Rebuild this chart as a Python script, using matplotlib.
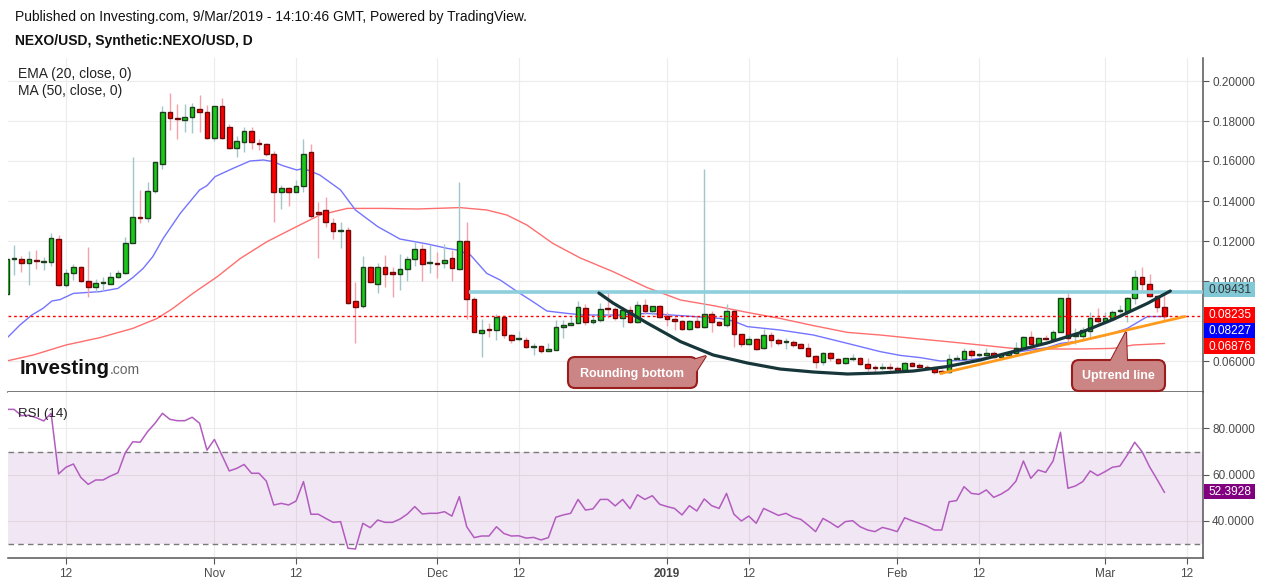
import numpy as np
import pandas as pd
import matplotlib
matplotlib.use("Agg")
import matplotlib.pyplot as plt
import matplotlib.dates as mdates
from matplotlib.patches import FancyBboxPatch, Polygon, Rectangle
from matplotlib.transforms import Affine2D

W, H = 1261, 582
plt.rcParams['font.family'] = ['Liberation Sans', 'DejaVu Sans']

# daily candles, 4 Oct 2018 .. 9 Mar 2019
dates = pd.date_range('2018-10-04', periods=157, freq='D')

opens = [
    0.0935, 0.1110, 0.1110, 0.1090, 0.1105, 0.1095, 0.1095, 0.1210, 0.0980, 0.1042,
    0.1070, 0.1000, 0.0970, 0.0990, 0.0985, 0.1020, 0.1042, 0.1190, 0.1320, 0.1313,
    0.1450, 0.1583, 0.1847, 0.1813, 0.1805, 0.1822, 0.1860, 0.1847, 0.1713, 0.1877,
    0.1772, 0.1663, 0.1697, 0.1750, 0.1692, 0.1685, 0.1633, 0.1447, 0.1467, 0.1447,
    0.1475, 0.1647, 0.1343, 0.1355, 0.1290, 0.1250, 0.1255, 0.0900, 0.0875, 0.1068,
    0.0985, 0.1068, 0.1047, 0.1035, 0.1060, 0.1110, 0.1160, 0.1088, 0.1090, 0.1092,
    0.1113, 0.1060, 0.1200, 0.0910, 0.0742, 0.0758, 0.0753, 0.0822, 0.0730, 0.0708,
    0.0705, 0.0668, 0.0675, 0.0650, 0.0655, 0.0768, 0.0780, 0.0788, 0.0863, 0.0797,
    0.0803, 0.0862, 0.0860, 0.0813, 0.0855, 0.0793, 0.0880, 0.0850, 0.0875, 0.0827,
    0.0810, 0.0800, 0.0760, 0.0800, 0.0768, 0.0837, 0.0793, 0.0780, 0.0850, 0.0733,
    0.0683, 0.0710, 0.0663, 0.0730, 0.0705, 0.0697, 0.0697, 0.0683, 0.0667, 0.0627,
    0.0593, 0.0638, 0.0610, 0.0588, 0.0612, 0.0613, 0.0585, 0.0565, 0.0563, 0.0567,
    0.0565, 0.0555, 0.0588, 0.0580, 0.0570, 0.0567, 0.0548, 0.0547, 0.0609, 0.0610,
    0.0650, 0.0630, 0.0630, 0.0638, 0.0620, 0.0630, 0.0638, 0.0663, 0.0720, 0.0685,
    0.0712, 0.0710, 0.0747, 0.0913, 0.0726, 0.0727, 0.0750, 0.0813, 0.0800, 0.0813,
    0.0849, 0.0850, 0.0913, 0.1020, 0.0983, 0.0925, 0.0868]
highs = [
    0.1120, 0.1180, 0.1127, 0.1152, 0.1155, 0.1120, 0.1238, 0.1230, 0.1060, 0.1083,
    0.1073, 0.1170, 0.1010, 0.1020, 0.1047, 0.1055, 0.1222, 0.1622, 0.1453, 0.1493,
    0.1597, 0.1877, 0.1942, 0.1885, 0.1885, 0.1888, 0.1930, 0.1880, 0.1877, 0.1915,
    0.1783, 0.1727, 0.1772, 0.1772, 0.1710, 0.1690, 0.1650, 0.1480, 0.1470, 0.1505,
    0.1708, 0.1683, 0.1397, 0.1422, 0.1313, 0.1297, 0.1272, 0.0997, 0.1127, 0.1077,
    0.1088, 0.1130, 0.1072, 0.1135, 0.1127, 0.1197, 0.1183, 0.1180, 0.1147, 0.1183,
    0.1155, 0.1497, 0.1297, 0.0922, 0.0808, 0.0788, 0.0833, 0.0832, 0.0735, 0.0750,
    0.0722, 0.0690, 0.0677, 0.0690, 0.0805, 0.0805, 0.0822, 0.0900, 0.0885, 0.0822,
    0.0888, 0.0947, 0.0870, 0.0872, 0.0877, 0.0900, 0.0910, 0.0877, 0.0880, 0.0847,
    0.0822, 0.0803, 0.0805, 0.0827, 0.1560, 0.0852, 0.0800, 0.0887, 0.0860, 0.0735,
    0.0727, 0.0715, 0.0760, 0.0747, 0.0713, 0.0713, 0.0705, 0.0690, 0.0688, 0.0630,
    0.0643, 0.0647, 0.0615, 0.0617, 0.0635, 0.0622, 0.0613, 0.0580, 0.0588, 0.0590,
    0.0575, 0.0597, 0.0597, 0.0590, 0.0580, 0.0577, 0.0560, 0.0633, 0.0630, 0.0663,
    0.0660, 0.0638, 0.0663, 0.0650, 0.0637, 0.0650, 0.0693, 0.0727, 0.0750, 0.0720,
    0.0730, 0.0755, 0.0917, 0.0938, 0.0763, 0.0772, 0.0843, 0.0863, 0.0843, 0.0855,
    0.0880, 0.0922, 0.1055, 0.1072, 0.1037, 0.0930, 0.0938]
lows = [
    0.0930, 0.1030, 0.1047, 0.0980, 0.1060, 0.1055, 0.1077, 0.0975, 0.0972, 0.1005,
    0.0993, 0.0922, 0.0947, 0.0950, 0.0983, 0.1013, 0.1035, 0.1188, 0.1290, 0.1297,
    0.1440, 0.1560, 0.1757, 0.1708, 0.1747, 0.1738, 0.1747, 0.1710, 0.1700, 0.1710,
    0.1660, 0.1622, 0.1643, 0.1660, 0.1655, 0.1627, 0.1293, 0.1358, 0.1375, 0.1445,
    0.1445, 0.1310, 0.1117, 0.1270, 0.1210, 0.1167, 0.0885, 0.0688, 0.0863, 0.0990,
    0.0938, 0.0972, 0.0922, 0.0955, 0.1000, 0.1077, 0.1000, 0.1038, 0.1013, 0.1067,
    0.1000, 0.1055, 0.0810, 0.0745, 0.0622, 0.0718, 0.0705, 0.0717, 0.0688, 0.0700,
    0.0665, 0.0630, 0.0638, 0.0650, 0.0655, 0.0713, 0.0780, 0.0788, 0.0780, 0.0785,
    0.0797, 0.0813, 0.0805, 0.0768, 0.0788, 0.0788, 0.0833, 0.0830, 0.0813, 0.0777,
    0.0755, 0.0755, 0.0755, 0.0763, 0.0763, 0.0747, 0.0777, 0.0772, 0.0672, 0.0672,
    0.0680, 0.0655, 0.0660, 0.0672, 0.0680, 0.0660, 0.0672, 0.0665, 0.0622, 0.0567,
    0.0580, 0.0600, 0.0585, 0.0585, 0.0600, 0.0580, 0.0550, 0.0547, 0.0555, 0.0555,
    0.0550, 0.0547, 0.0573, 0.0565, 0.0558, 0.0533, 0.0535, 0.0538, 0.0600, 0.0605,
    0.0617, 0.0620, 0.0625, 0.0613, 0.0615, 0.0625, 0.0630, 0.0657, 0.0680, 0.0683,
    0.0705, 0.0705, 0.0743, 0.0680, 0.0683, 0.0700, 0.0713, 0.0788, 0.0797, 0.0810,
    0.0838, 0.0797, 0.0883, 0.0950, 0.0922, 0.0843, 0.0800]
closes = [
    0.1110, 0.1112, 0.1090, 0.1110, 0.1101, 0.1097, 0.1213, 0.0980, 0.1042, 0.1070,
    0.1000, 0.0970, 0.0990, 0.0993, 0.1020, 0.1042, 0.1190, 0.1320, 0.1313, 0.1450,
    0.1597, 0.1847, 0.1813, 0.1808, 0.1822, 0.1870, 0.1843, 0.1713, 0.1877, 0.1713,
    0.1663, 0.1700, 0.1750, 0.1697, 0.1685, 0.1633, 0.1447, 0.1467, 0.1447, 0.1475,
    0.1637, 0.1327, 0.1335, 0.1293, 0.1250, 0.1255, 0.0888, 0.0868, 0.1068, 0.0997,
    0.1068, 0.1035, 0.1035, 0.1060, 0.1110, 0.1160, 0.1085, 0.1090, 0.1087, 0.1105,
    0.1063, 0.1200, 0.0910, 0.0747, 0.0755, 0.0753, 0.0822, 0.0730, 0.0705, 0.0710,
    0.0668, 0.0670, 0.0650, 0.0660, 0.0768, 0.0780, 0.0792, 0.0868, 0.0793, 0.0803,
    0.0860, 0.0860, 0.0815, 0.0855, 0.0793, 0.0880, 0.0850, 0.0875, 0.0820, 0.0810,
    0.0800, 0.0760, 0.0800, 0.0768, 0.0837, 0.0793, 0.0780, 0.0850, 0.0733, 0.0683,
    0.0710, 0.0658, 0.0730, 0.0705, 0.0688, 0.0698, 0.0680, 0.0667, 0.0627, 0.0593,
    0.0638, 0.0613, 0.0588, 0.0613, 0.0614, 0.0585, 0.0567, 0.0563, 0.0567, 0.0565,
    0.0557, 0.0588, 0.0577, 0.0570, 0.0563, 0.0547, 0.0545, 0.0610, 0.0611, 0.0650,
    0.0630, 0.0631, 0.0638, 0.0620, 0.0630, 0.0638, 0.0663, 0.0720, 0.0685, 0.0717,
    0.0710, 0.0743, 0.0913, 0.0717, 0.0728, 0.0755, 0.0813, 0.0800, 0.0813, 0.0843,
    0.0851, 0.0913, 0.1020, 0.0983, 0.0925, 0.0868, 0.08235]

rsi = [
    88.2, 88.2, 85.5, 85.6, 84.6, 83.2, 86.5, 60.3, 63.2, 64.6,
    58.8, 55.8, 57.7, 57.7, 59.4, 60.8, 69.5, 74.2, 74.0, 78.6,
    82.2, 86.5, 83.9, 83.3, 83.3, 84.8, 82.2, 70.6, 75.2, 68.5,
    61.6, 62.7, 64.4, 60.6, 60.6, 57.2, 46.9, 47.6, 46.9, 48.6,
    57.0, 42.9, 42.9, 41.1, 39.4, 39.7, 28.2, 27.9, 39.0, 37.1,
    40.4, 39.4, 39.4, 40.8, 43.0, 46.2, 43.0, 43.3, 43.3, 44.0,
    42.1, 50.5, 37.5, 32.8, 33.5, 33.5, 37.5, 34.6, 33.5, 33.6,
    32.6, 32.9, 31.8, 32.8, 41.6, 42.6, 43.3, 49.3, 44.7, 45.2,
    49.3, 49.3, 46.5, 49.3, 45.3, 51.3, 49.3, 50.9, 47.2, 46.2,
    45.4, 42.6, 46.6, 44.3, 49.5, 46.6, 45.4, 51.9, 42.9, 40.0,
    42.1, 39.0, 45.4, 43.9, 42.4, 43.3, 41.6, 40.7, 38.2, 35.4,
    41.1, 39.3, 37.2, 39.7, 40.1, 37.5, 36.1, 35.4, 37.2, 36.4,
    35.4, 41.4, 40.1, 39.0, 37.8, 36.1, 36.1, 48.3, 48.8, 54.8,
    51.9, 51.5, 53.4, 50.2, 51.6, 53.6, 57.2, 65.9, 58.4, 62.0,
    61.0, 65.9, 78.3, 54.1, 55.1, 57.0, 61.6, 59.6, 61.3, 63.2,
    63.7, 68.5, 74.0, 69.9, 63.4, 58.0, 52.39]

# EMA(20) and MA(50): day offset from 4 Oct, value
ema_day = [0, 1.8, 3.4, 4.9, 6.1, 7.2, 9, 12.6, 15, 17, 18.4, 19.7, 21.1, 23.4, 26,
           27, 28.1, 30.5, 32.8, 34.6, 35.9, 37.2, 39.1, 40, 42.2, 45, 47, 50, 53,
           56.7, 59.4, 60.7, 62.5, 64.7, 66.5, 68.8, 70.9, 72.8, 75.5, 77.7, 82.7,
           86.3, 90.8, 96.1, 97.9, 99.8, 104.2, 108.7, 113.3, 117.7, 120.4, 123.1,
           125.8, 128.9, 133.5, 136.6, 140.2, 142, 144.7, 148.3, 151, 153.7, 156]
ema_val = [0.0713, 0.0780, 0.0830, 0.0863, 0.0900, 0.0907, 0.0938, 0.0947, 0.0963,
           0.1017, 0.1063, 0.1122, 0.1213, 0.1338, 0.1455, 0.1477, 0.1522, 0.1563,
           0.1600, 0.1605, 0.1597, 0.1577, 0.1555, 0.1563, 0.1530, 0.1455, 0.1355,
           0.1272, 0.1210, 0.1185, 0.1163, 0.1155, 0.1130, 0.1038, 0.1005, 0.0947,
           0.0897, 0.0850, 0.0838, 0.0830, 0.0830, 0.0838, 0.0827, 0.0813, 0.0800,
           0.0772, 0.0755, 0.0730, 0.0688, 0.0647, 0.0628, 0.0617, 0.0600, 0.0603,
           0.0622, 0.0647, 0.0667, 0.0688, 0.0700, 0.0730, 0.0763, 0.0822, 0.08227]
ma_day = [0, 3.6, 8, 12.6, 17, 20.3, 22.4, 25.1, 28.4, 31.5, 35.1, 38.6, 42.2, 45.9,
          50.7, 55.3, 61.1, 64.7, 67.4, 70.1, 73.6, 77.3, 81.7, 86.3, 90.8, 95.2,
          99.8, 104.2, 108.7, 113.3, 117.7, 122.2, 126.7, 131.2, 135.6, 140.2, 144.7,
          149.1, 151.8, 156]
ma_val = [0.0600, 0.0630, 0.0680, 0.0717, 0.0763, 0.0813, 0.0863, 0.0938, 0.1022,
          0.1113, 0.1197, 0.1263, 0.1330, 0.1363, 0.1363, 0.1360, 0.1367, 0.1355,
          0.1330, 0.1280, 0.1188, 0.1115, 0.1047, 0.0967, 0.0905, 0.0877, 0.0843,
          0.0813, 0.0777, 0.0743, 0.0730, 0.0713, 0.0697, 0.0680, 0.0663, 0.0660,
          0.0660, 0.0663, 0.0680, 0.06876]

# hand-drawn annotations (day offset, price)
bottom_day = [79.8, 81.7, 86.3, 90.8, 95.2, 99.8, 104.2, 108.7, 113.3, 117.7, 122.2,
              126.7, 131.2, 135.6, 140.2, 144.7, 149.1, 153.7, 156.8]
bottom_val = [0.0940, 0.0890, 0.0790, 0.0697, 0.0630, 0.0590, 0.0560, 0.0545, 0.0535,
              0.0540, 0.0550, 0.0572, 0.0605, 0.0647, 0.0690, 0.0742, 0.0808, 0.0888,
              0.0950]
uptrend_day = [125.9, 158.7]
uptrend_val = [0.0538, 0.0822]
resistance = 0.09431
resistance_from = 62.3
last_close = 0.08235
ema_last, ma_last, rsi_last = 0.08227, 0.06876, 52.3928

tick_dates = ['2018-10-12', '2018-11-01', '2018-11-12', '2018-12-01', '2018-12-12',
              '2019-01-01', '2019-01-12', '2019-02-01', '2019-02-12', '2019-03-01',
              '2019-03-12']
tick_labels = ['12', 'Nov', '12', 'Dec', '12', '2019', '12', 'Feb', '12', 'Mar', '12']

x = mdates.date2num(dates)
x0 = x[0]
o, h, l, c = map(np.array, (opens, highs, lows, closes))

fig = plt.figure(figsize=(W / 100, H / 100), dpi=100)


def rect(left, top, right, bot):
    return [left / W, 1 - bot / H, (right - left) / W, (bot - top) / H]


ax = fig.add_axes(rect(8, 58, 1203, 392))
axr = fig.add_axes(rect(8, 392, 1203, 558), sharex=ax)
axis_col = '#555555'
label_col = '#4a4a4a'
grid_col = '#ececec'

for a in (ax, axr):
    a.set_axisbelow(True)
    a.grid(True, color=grid_col, lw=0.8)
    a.spines['top'].set_visible(False)
    a.spines['left'].set_visible(False)
    for s in ('bottom', 'right'):
        a.spines[s].set_color(axis_col)
        a.spines[s].set_linewidth(1.1)
    a.yaxis.tick_right()
    a.tick_params(axis='y', length=4, color=axis_col, labelcolor=label_col,
                  labelsize=8.5, pad=2.5)

ax.set_xlim(x0 + 0.19, x0 + 161.2)
ax.set_ylim(0.0445, 0.2115)
ax.set_yticks(np.arange(0.06, 0.2001, 0.02))
ax.yaxis.set_major_formatter(matplotlib.ticker.FormatStrFormatter('%.5f'))
ax.tick_params(axis='x', bottom=False, labelbottom=False)

# moving averages
ax.plot(x0 + np.array(ma_day), ma_val, color='#ff6e6e', lw=1.0, zorder=2)
ax.plot(x0 + np.array(ema_day), ema_val, color='#7474ff', lw=1.0, zorder=2)

# candles
up = c >= o
ax.vlines(x[up], l[up], h[up], color='#a3c6c9', lw=1, zorder=3)
ax.vlines(x[~up], l[~up], h[~up], color='#f4a3ad', lw=1, zorder=3)
body_lo = np.minimum(o, c)
body_h = np.maximum(np.abs(c - o), 0.0005)
ax.bar(x[up], body_h[up], bottom=body_lo[up], width=0.62, color='#19c819',
       edgecolor='#1d3f1d', lw=1, zorder=4)
ax.bar(x[~up], body_h[~up], bottom=body_lo[~up], width=0.62, color='#ff0000',
       edgecolor='#6e0a0a', lw=1, zorder=4)

# levels and drawings
ax.plot([x0 + resistance_from, x0 + 161.2], [resistance, resistance],
        color='#8dcfdc', lw=2.6, zorder=5, solid_capstyle='butt')
ax.axhline(last_close, color='#ff0000', lw=1, ls=(0, (2, 2)), zorder=5)
ax.plot(x0 + np.array(bottom_day), bottom_val, color='#17363a', lw=2.3, zorder=6,
        solid_capstyle='round', solid_joinstyle='round')
ax.plot(x0 + np.array(uptrend_day), uptrend_val, color='#ff9a1a', lw=2.0, zorder=6)

# RSI pane
axr.set_ylim(24, 95.7)
axr.set_yticks([40, 60, 80])
axr.yaxis.set_major_formatter(matplotlib.ticker.FormatStrFormatter('%.4f'))
axr.axhspan(30, 70, color=(0.58, 0.22, 0.62), alpha=0.12, lw=0, zorder=1)
for lvl in (30, 70):
    axr.axhline(lvl, color='#7a7a7a', lw=1, ls=(0, (4, 3)), zorder=2)
axr.plot(x, rsi, color='#b35cc0', lw=1.1, zorder=3)
axr.text(10 / 1195, 0.865, 'RSI (14)', transform=axr.transAxes, fontsize=9.5,
         color='#222222', va='center')

axr.set_xticks(mdates.datestr2num(tick_dates))
axr.set_xticklabels(tick_labels)
axr.tick_params(axis='x', length=4, color=axis_col, labelcolor=label_col,
                labelsize=8.5, pad=3)
for t in axr.get_xticklabels():
    if t.get_text() == '2019':
        t.set_fontweight('bold')
        t.set_color('#444444')


def ftext(px, py, s, **kw):
    fig.text(px / W, 1 - py / H, s, **kw)


ftext(15, 17, 'Published on Investing.com, 9/Mar/2019 - 14:10:46 GMT, Powered by TradingView.',
      fontsize=10, color='#111111', va='center')
ftext(15, 41, 'NEXO/USD, Synthetic:NEXO/USD, D', fontsize=10, fontweight='bold',
      color='#111111', va='center')
ftext(18, 74, 'EMA (20, close, 0)', fontsize=10, color='#222222', va='center')
ftext(18, 91, 'MA (50, close, 0)', fontsize=10, color='#222222', va='center')
ftext(20, 374, 'Investing', fontsize=14.8, fontweight='bold', color='#111111',
      va='baseline')
ftext(110, 374, '.com', fontsize=10, color='#666666', va='baseline')

# pixel-space helpers for tags and callouts
pix = Affine2D().scale(1, -1).translate(0, H)

# value tags on the right scale (stacked so they do not overlap)
tags = [(f'{resistance:.5f}', 289.5, '#82c9d7', '#333333'),
        (f'{last_close:.5f}', 315.0, '#ff0000', 'white'),
        (f'{ema_last:.5f}', 330.5, '#0000ff', 'white'),
        (f'{ma_last:.5f}', 346.0, '#ff0000', 'white'),
        (f'{rsi_last:.4f}', 491.7, '#800080', 'white')]
for label, cy, fc, tc in tags:
    fig.add_artist(Rectangle((1204, cy - 7.7), 51, 15.4, fc=fc, ec='none',
                             transform=pix, zorder=30))
    ftext(1208.5, cy + 0.5, label, fontsize=8.6, color=tc, va='center', ha='left',
          zorder=31)

call_fc, call_ec = '#cc8585', '#9a1c1c'


def callout(box, tip_poly, label):
    left, top, right, bot = box
    wedge = Polygon(tip_poly, closed=True, fc=call_fc, ec=call_ec, lw=1.5,
                    transform=pix, zorder=20)
    fig.add_artist(wedge)
    b = FancyBboxPatch((left, top), right - left, bot - top,
                       boxstyle='round,pad=0,rounding_size=7', fc=call_fc,
                       ec=call_ec, lw=1.5, transform=pix, zorder=21)
    fig.add_artist(b)
    cover = Polygon(tip_poly, closed=True, fc=call_fc, ec='none', lw=0,
                    transform=pix, zorder=22)
    fig.add_artist(cover)
    ftext((left + right) / 2, (top + bot) / 2 + 1, label, fontsize=9,
          fontweight='bold', color='white', ha='center', va='center', zorder=23)


callout((568, 357, 697, 388), [(686, 362), (706, 356), (692, 378)], 'Rounding bottom')
callout((1072, 360, 1165, 391), [(1110, 362), (1126, 332), (1127, 362)], 'Uptrend line')

fig.savefig('out.png', dpi=100)
